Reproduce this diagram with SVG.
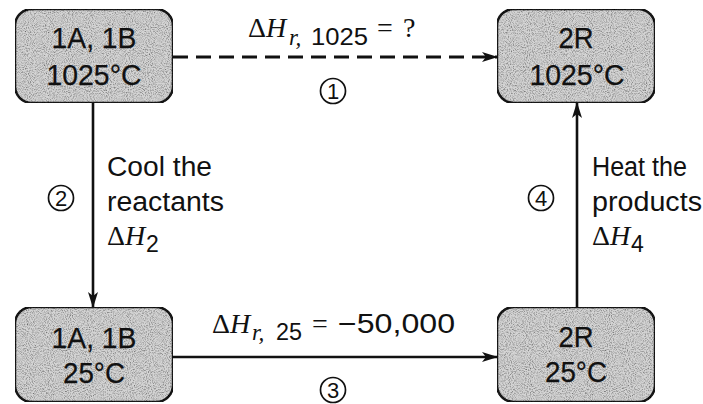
<svg xmlns="http://www.w3.org/2000/svg" width="703" height="404" viewBox="0 0 703 404">
  <defs>
    <marker id="head" viewBox="0 0 16 10" refX="15" refY="5" markerWidth="16" markerHeight="10" markerUnits="userSpaceOnUse" orient="auto">
      <path d="M0,0 L16,5 L0,10 L4,5 z" fill="#111"/>
    </marker>
    <!-- light halftone speckle for the state boxes -->
    <filter id="grain" x="0" y="0" width="100%" height="100%">
      <feTurbulence type="fractalNoise" baseFrequency="0.95" numOctaves="2" seed="3" result="n"/>
      <feColorMatrix in="n" type="matrix" values="0 0 0 0 0  0 0 0 0 0  0 0 0 0 0  0 0 0 -1.6 0.95" result="dots"/>
      <feComposite in="dots" in2="SourceGraphic" operator="in" result="d2"/>
      <feMerge><feMergeNode in="SourceGraphic"/><feMergeNode in="d2"/></feMerge>
    </filter>
  </defs>
  <style>
    .box { fill: #d4d4d4; stroke: #1a1a1a; stroke-width: 2.5; }
    .lbl { font-family: "Liberation Sans", Arial, sans-serif; font-size: 29px; fill: #111; stroke: #111; stroke-width: 0.25; text-anchor: middle; }
    .txt { font-family: "Liberation Sans", Arial, sans-serif; font-size: 27px; fill: #111; }
    .sym { font-family: "Liberation Serif", "Times New Roman", serif; font-size: 28px; fill: #111; }
    .sub { font-size: 23px; }
    .it { font-style: italic; }
    .num { font-family: "Liberation Sans", Arial, sans-serif; font-size: 22px; fill: #111; text-anchor: middle; }
    .ring { fill: none; stroke: #111; stroke-width: 1.7; }
    .edge { fill: none; stroke: #111; stroke-width: 2.6; marker-end: url(#head); }
    .dash { stroke-dasharray: 15 8; stroke-width: 3; }
  </style>

  <!-- state boxes -->
  <g id="react-1025">
    <rect class="box" x="15" y="9" width="158" height="94" rx="17" filter="url(#grain)"/>
    <text class="lbl" x="94" y="48" textLength="85" lengthAdjust="spacingAndGlyphs">1A, 1B</text>
    <text class="lbl" x="94" y="85" textLength="95" lengthAdjust="spacingAndGlyphs">1025°C</text>
  </g>
  <g id="prod-1025">
    <rect class="box" x="497" y="9" width="158" height="94" rx="17" filter="url(#grain)"/>
    <text class="lbl" x="576" y="48" textLength="35" lengthAdjust="spacingAndGlyphs">2R</text>
    <text class="lbl" x="577" y="85" textLength="95" lengthAdjust="spacingAndGlyphs">1025°C</text>
  </g>
  <g id="react-25">
    <rect class="box" x="15" y="307" width="158" height="95" rx="17" filter="url(#grain)"/>
    <text class="lbl" x="94" y="348" textLength="85" lengthAdjust="spacingAndGlyphs">1A, 1B</text>
    <text class="lbl" x="94" y="383" textLength="62" lengthAdjust="spacingAndGlyphs">25°C</text>
  </g>
  <g id="prod-25">
    <rect class="box" x="497" y="307" width="158" height="95" rx="17" filter="url(#grain)"/>
    <text class="lbl" x="576" y="347" textLength="35" lengthAdjust="spacingAndGlyphs">2R</text>
    <text class="lbl" x="576" y="382" textLength="62" lengthAdjust="spacingAndGlyphs">25°C</text>
  </g>

  <!-- connectors -->
  <g id="connectors">
    <path class="edge dash" d="M173,57 H497"/>
    <path class="edge" d="M93,103 V307"/>
    <path class="edge" d="M173,357 H497"/>
    <path class="edge" d="M577,307 V103"/>
  </g>

  <!-- step 1: direct reaction at 1025 °C -->
  <g id="step1-label">
    <text class="sym" x="248" y="37">Δ<tspan class="it">H</tspan></text>
    <text class="sym sub it" x="289" y="45">r,</text>
    <text class="txt sub" x="311" y="45" textLength="57" lengthAdjust="spacingAndGlyphs">1025</text>
    <text class="sym" x="377" y="37">=</text>
    <text class="sym" x="403" y="37">?</text>
    <circle class="ring" cx="333" cy="91" r="12.5"/>
    <text class="num" x="333" y="99">1</text>
  </g>
  <!-- step 2: cooling -->
  <g id="step2-label">
    <circle class="ring" cx="61" cy="198" r="12.5"/>
    <text class="num" x="61" y="206">2</text>
    <text class="txt" x="107" y="176" textLength="105" lengthAdjust="spacingAndGlyphs">Cool the</text>
    <text class="txt" x="107" y="211" textLength="117" lengthAdjust="spacingAndGlyphs">reactants</text>
    <text class="sym" x="107" y="245" font-size="26">Δ<tspan class="it">H</tspan></text>
    <text class="txt sub" x="146" y="252">2</text>
  </g>
  <!-- step 3: reaction at 25 °C -->
  <g id="step3-label">
    <text class="sym" x="212" y="333">Δ<tspan class="it">H</tspan></text>
    <text class="sym sub it" x="252" y="340">r,</text>
    <text class="txt sub" x="276" y="340" textLength="26" lengthAdjust="spacingAndGlyphs">25</text>
    <text class="sym" x="312" y="333">=</text>
    <text class="txt" x="338" y="333" font-size="28" textLength="117" lengthAdjust="spacingAndGlyphs">−50,000</text>
    <circle class="ring" cx="333" cy="390" r="12.5"/>
    <text class="num" x="333" y="398">3</text>
  </g>
  <!-- step 4: heating -->
  <g id="step4-label">
    <circle class="ring" cx="541" cy="198" r="12.5"/>
    <text class="num" x="541" y="206">4</text>
    <text class="txt" x="592" y="176" textLength="95" lengthAdjust="spacingAndGlyphs">Heat the</text>
    <text class="txt" x="592" y="211" textLength="110" lengthAdjust="spacingAndGlyphs">products</text>
    <text class="sym" x="592" y="245" font-size="26">Δ<tspan class="it">H</tspan></text>
    <text class="txt sub" x="631" y="252">4</text>
  </g>
</svg>
